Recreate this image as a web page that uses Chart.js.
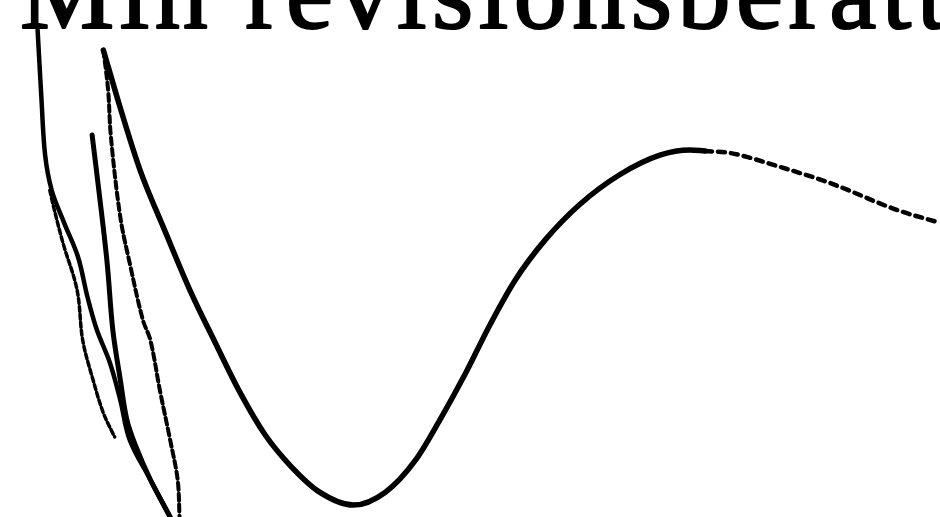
<!DOCTYPE html>
<html>
<head>
<meta charset="utf-8">
<script src="https://cdn.jsdelivr.net/npm/chart.js@4"></script>
<style>
  html, body { margin: 0; padding: 0; background: #fff; overflow: hidden; }
  #wrap { width: 940px; height: 517px; position: relative; }
  canvas { display: block; }
</style>
</head>
<body>
<div id="wrap"><canvas id="c" width="940" height="517"></canvas></div>
<script>
// Heading text (scanned page, cropped at the top)
const headingText = "Min revisionsberätte";

// Values: x and y on a 0–100 scale (y upwards)
const mainCurveX = [11.0, 12.8, 14.9, 17.6, 20.2, 22.9, 25.5, 28.2, 30.9, 34.0, 37.6, 41.0, 44.2, 46.8, 49.5, 52.1, 54.8, 58.0, 61.7, 66.0, 70.2, 73.4, 75.0];
const mainCurveY = [90.3, 79.1, 67.1, 55.1, 43.9, 33.7, 24.2, 15.9, 9.9, 4.8, 2.3, 4.8, 11.0, 18.8, 27.7, 37.1, 45.8, 53.6, 60.5, 66.3, 70.0, 71.0, 70.8];

const tailCurveX = [75.0, 77.7, 83.0, 88.3, 95.4, 100.0];
const tailCurveY = [70.8, 70.4, 67.7, 64.6, 59.4, 56.9];

const lineCX = [11.0, 11.5, 11.8, 12.8, 13.8, 15.2, 16.0, 17.0, 18.1, 18.9, 19.1];
const lineCY = [90.3, 82.6, 73.5, 58.0, 49.1, 38.1, 34.2, 24.6, 14.9, 7.2, 0.0];

const lineBX = [9.8, 10.6, 11.4, 12.0, 12.8, 13.5, 14.4, 16.0, 18.1];
const lineBY = [73.9, 61.9, 49.1, 36.2, 26.5, 18.8, 13.9, 7.2, 0.0];

const lineAX = [4.0, 4.4, 4.8, 5.5, 6.8, 8.3, 9.3, 10.3, 11.7, 12.8, 13.8, 16.0, 18.1];
const lineAY = [94.2, 81.2, 70.0, 63.2, 57.0, 50.3, 42.6, 36.2, 29.8, 22.6, 14.9, 7.2, 0.0];

const lineA2X = [5.3, 5.7, 6.7, 8.2, 8.8, 9.9, 11.0, 12.0, 12.2];
const lineA2Y = [63.2, 60.0, 53.0, 43.9, 34.2, 26.5, 20.1, 16.2, 15.5];

function pts(xs, ys) { return xs.map((x, i) => ({ x: x, y: ys[i] })); }

const headingPlugin = {
  id: 'heading',
  afterDraw(chart) {
    const ctx = chart.ctx;
    ctx.save();
    ctx.fillStyle = '#000';
    ctx.strokeStyle = '#000';
    ctx.lineWidth = 2.2;
    ctx.lineJoin = 'round';
    ctx.font = "106px 'Liberation Serif', 'Times New Roman', serif";
    ctx.textBaseline = 'alphabetic';
    let x = 20;
    const spacing = 5.5;
    for (const ch of headingText) {
      ctx.fillText(ch, x, 28);
      ctx.strokeText(ch, x, 28);
      x += ctx.measureText(ch).width + spacing;
    }
    ctx.restore();
  }
};

function ds(data, width, dash, mono) {
  return {
    data: data,
    showLine: true,
    borderColor: '#000',
    borderWidth: width,
    borderDash: dash,
    borderCapStyle: 'round',
    borderJoinStyle: 'round',
    pointRadius: 0,
    tension: 0.35,
    cubicInterpolationMode: mono ? 'monotone' : 'default',
    fill: false,
    clip: false
  };
}

new Chart(document.getElementById('c'), {
  type: 'scatter',
  data: {
    datasets: [
      ds(pts(mainCurveX, mainCurveY), 5.5, [], true),
      ds(pts(tailCurveX, tailCurveY), 4.5, [7, 6], true),
      ds(pts(lineCX, lineCY), 4, [7, 4], false),
      ds(pts(lineBX, lineBY), 5, [], false),
      ds(pts(lineAX, lineAY), 4.5, [], false),
      ds(pts(lineA2X, lineA2Y), 3.5, [5, 3], false)
    ]
  },
  options: {
    responsive: false,
    animation: false,
    layout: { padding: 0 },
    plugins: { legend: { display: false }, tooltip: { enabled: false }, title: { display: false } },
    scales: {
      x: { type: 'linear', min: 0, max: 100, display: false },
      y: { type: 'linear', min: 0, max: 100, display: false }
    }
  },
  plugins: [headingPlugin]
});
</script>
</body>
</html>
